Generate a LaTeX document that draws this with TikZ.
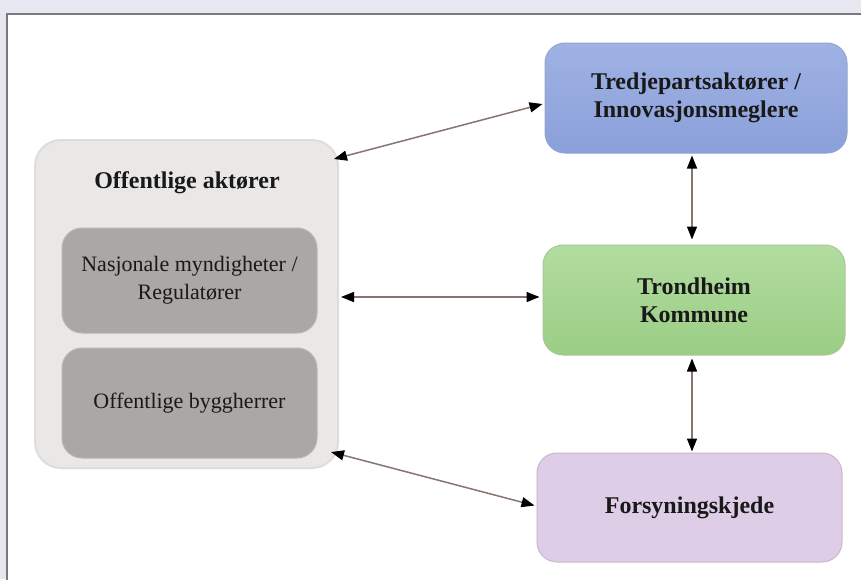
\documentclass[tikz,border=0pt]{standalone}
\usepackage{fontspec}
\setmainfont{Liberation Serif}
\usetikzlibrary{arrows.meta,calc}
\definecolor{bgl}{RGB}{231,231,241}
\definecolor{panelline}{RGB}{120,120,125}
\definecolor{outerfill}{RGB}{233,232,230}
\definecolor{outerline}{RGB}{222,221,219}
\definecolor{innerfill}{RGB}{170,167,165}
\definecolor{innerline}{RGB}{185,183,181}
\definecolor{blueTop}{RGB}{160,178,228}
\definecolor{blueBot}{RGB}{138,160,218}
\definecolor{blueLine}{RGB}{150,165,205}
\definecolor{greenTop}{RGB}{178,220,160}
\definecolor{greenBot}{RGB}{155,206,133}
\definecolor{greenLine}{RGB}{170,200,150}
\definecolor{lilacFill}{RGB}{222,205,230}
\definecolor{lilacLine}{RGB}{200,185,200}
\definecolor{conline}{RGB}{135,118,112}
\definecolor{txt}{RGB}{25,25,25}
\tikzset{
  rbox/.style={rounded corners=20pt, line width=1pt, align=center, text=txt, inner sep=0pt},
  boldtxt/.style={font=\fontsize{24}{28}\selectfont\bfseries},
  regtxt/.style={font=\fontsize{22}{28}\selectfont},
  con/.style={draw=conline, line width=1.5pt, {Triangle[length=13pt,width=10pt,fill=black,color=black]}-{Triangle[length=13pt,width=10pt,fill=black,color=black]}}
}
\begin{document}
\begin{tikzpicture}[x=1pt,y=-1pt]
\useasboundingbox (0,0) rectangle (861,579);
\clip (0,0) rectangle (861,579);
\fill[bgl] (0,0) rectangle (861,579);
\filldraw[fill=white, draw=panelline, line width=1.5pt] (7,14) rectangle (880,600);

% left group
\node[rbox, fill=outerfill, draw=outerline, line width=2pt, rounded corners=26pt, minimum width=303pt, minimum height=328pt] (outer) at (186.5,304) {};
\node[boldtxt, text=txt] (otitle) at (187,183) {Offentlige aktører};
\node[rbox, regtxt, fill=innerfill, draw=innerline, minimum width=255pt, minimum height=105pt] (nasj) at (189.5,280.5) {Nasjonale myndigheter /\\Regulatører};
\node[rbox, regtxt, fill=innerfill, draw=innerline, minimum width=255pt, minimum height=110pt] (bygg) at (189.5,403) {Offentlige byggherrer};

% right boxes
\node[rbox, boldtxt, top color=blueTop, bottom color=blueBot, draw=blueLine, minimum width=302pt, minimum height=110pt] (tred) at (696,98) {Tredjepartsaktører /\\Innovasjonsmeglere};
\node[rbox, boldtxt, top color=greenTop, bottom color=greenBot, draw=greenLine, minimum width=302pt, minimum height=110pt] (trond) at (694,300) {Trondheim\\Kommune};
\node[rbox, boldtxt, fill=lilacFill, draw=lilacLine, minimum width=305pt, minimum height=109pt] (forsy) at (689.5,507.5) {Forsyningskjede};

% connectors
\draw[con] ($(outer.north east)+(-5,20)$) -- ($(tred.west)+(-2,6)$);
\draw[con] ($(outer.east)+(2,-7)$) -- ($(trond.west)+(-3,-3)$);
\draw[con] ($(outer.south east)+(-8,-17)$) -- ($(forsy.west)+(-2,-2)$);
\draw[con] ($(tred.south)+(-4,2)$) -- ($(trond.north)+(-2,-5)$);
\draw[con] ($(trond.south)+(-2,3)$) -- ($(forsy.north)+(2.5,-1)$);
\end{tikzpicture}
\end{document}
